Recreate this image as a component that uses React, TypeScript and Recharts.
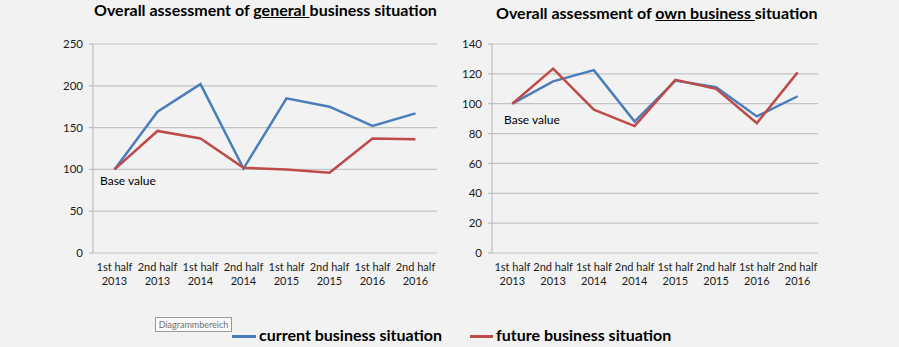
import React from "react"
import { LineChart, Line, XAxis, YAxis, CartesianGrid } from "recharts"

const periods = [
  "1st half 2013", "2nd half 2013", "1st half 2014", "2nd half 2014",
  "1st half 2015", "2nd half 2015", "1st half 2016", "2nd half 2016",
]
const generalCurrent = [100, 169, 202, 101, 185, 175, 152, 167]
const generalFuture = [100, 146, 137, 102, 100, 96, 137, 136]
const ownCurrent = [100, 115, 122.5, 88, 115.5, 111, 91.5, 105]
const ownFuture = [100, 123.5, 96, 85, 116, 110, 87, 121]
const generalTicks = [0, 50, 100, 150, 200, 250]
const ownTicks = [0, 20, 40, 60, 80, 100, 120, 140]
const boundaryTicks = [0, 1, 2, 3, 4, 5, 6, 7, 8]

const BLUE = "#4a7ebb"
const RED = "#be4b48"
const FONT = "Lato, 'Open Sans', sans-serif"

const generalData = periods.map((p, i) => ({ period: p, current: generalCurrent[i], future: generalFuture[i] }))
const ownData = periods.map((p, i) => ({ period: p, current: ownCurrent[i], future: ownFuture[i] }))

function PeriodTick({ x, y, payload }: any) {
  const v: string = payload.value
  const cut = v.lastIndexOf(" ")
  return (
    <text x={x} y={y} textAnchor="middle" fontSize={11} fontFamily={FONT} fill="#1a1a1a">
      <tspan x={x} dy={17.5}>{v.slice(0, cut)}</tspan>
      <tspan x={x} dy={14}>{v.slice(cut + 1)}</tspan>
    </text>
  )
}

function Panel({ data, ticks, max, yWidth, right, width }: any) {
  return (
    <LineChart width={width} height={300} data={data} margin={{ top: 44, right, bottom: 7, left: 0 }}>
      <CartesianGrid horizontal vertical={false} stroke="#c3c3c3" strokeWidth={1.2} />
      <XAxis
        xAxisId="edge"
        type="number"
        domain={[0, 8]}
        ticks={boundaryTicks}
        tick={false}
        tickSize={4}
        height={0}
        axisLine={{ stroke: "#b4b4b4" }}
        tickLine={{ stroke: "#b4b4b4" }}
      />
      <XAxis
        dataKey="period"
        scale="band"
        interval={0}
        height={40}
        axisLine={false}
        tickLine={false}
        tickSize={0}
        tickMargin={0}
        tick={<PeriodTick />}
      />
      <YAxis
        domain={[0, max]}
        ticks={ticks}
        width={yWidth}
        tickSize={4}
        tickMargin={6}
        axisLine={{ stroke: "#b4b4b4" }}
        tickLine={{ stroke: "#b4b4b4" }}
        tick={{ fontSize: 11.5, fontFamily: FONT, fill: "#1a1a1a" }}
      />
      <Line type="linear" dataKey="current" stroke={BLUE} strokeWidth={2.5} dot={false} isAnimationActive={false} />
      <Line type="linear" dataKey="future" stroke={RED} strokeWidth={2.5} dot={false} isAnimationActive={false} />
    </LineChart>
  )
}

export default function App() {
  const abs = (left: number, top: number): React.CSSProperties => ({ position: "absolute", left, top })
  return (
    <div style={{ position: "absolute", left: 0, top: 0, width: 899, height: 347, background: "#f2f2f2", overflow: "hidden", fontFamily: FONT, color: "#000" }}>
      <div style={{ ...abs(0, 0) }}>
        <Panel data={generalData} ticks={generalTicks} max={250} yWidth={93} right={13} width={450} />
      </div>
      <div style={{ ...abs(450, 0) }}>
        <Panel data={ownData} ticks={ownTicks} max={140} yWidth={42} right={81} width={449} />
      </div>

      <div style={{ ...abs(94, 0), fontSize: 16, fontWeight: 700, whiteSpace: "pre" }}>
        Overall assessment of <span style={{ textDecoration: "underline" }}>general </span>business situation
      </div>
      <div style={{ ...abs(496, 3), fontSize: 16, fontWeight: 700, whiteSpace: "pre" }}>
        Overall assessment of <span style={{ textDecoration: "underline" }}>own business </span>situation
      </div>

      <div style={{ ...abs(100, 173), fontSize: 12 }}>Base value</div>
      <div style={{ ...abs(504, 112), fontSize: 12 }}>Base value</div>

      <div style={{ ...abs(155, 317), width: 75, height: 13, border: "1px solid #9a9a9a", background: "#fafafa", fontSize: 9, color: "#707070", lineHeight: "13px", textAlign: "center" }}>
        Diagrammbereich
      </div>

      <div style={{ ...abs(232, 335), width: 24, height: 3, background: BLUE }} />
      <div style={{ ...abs(259, 325), fontSize: 16, fontWeight: 700, whiteSpace: "nowrap" }}>current business situation</div>
      <div style={{ ...abs(470, 335), width: 23, height: 3, background: RED }} />
      <div style={{ ...abs(496, 325), fontSize: 16, fontWeight: 700, whiteSpace: "nowrap" }}>future business situation</div>
    </div>
  )
}
